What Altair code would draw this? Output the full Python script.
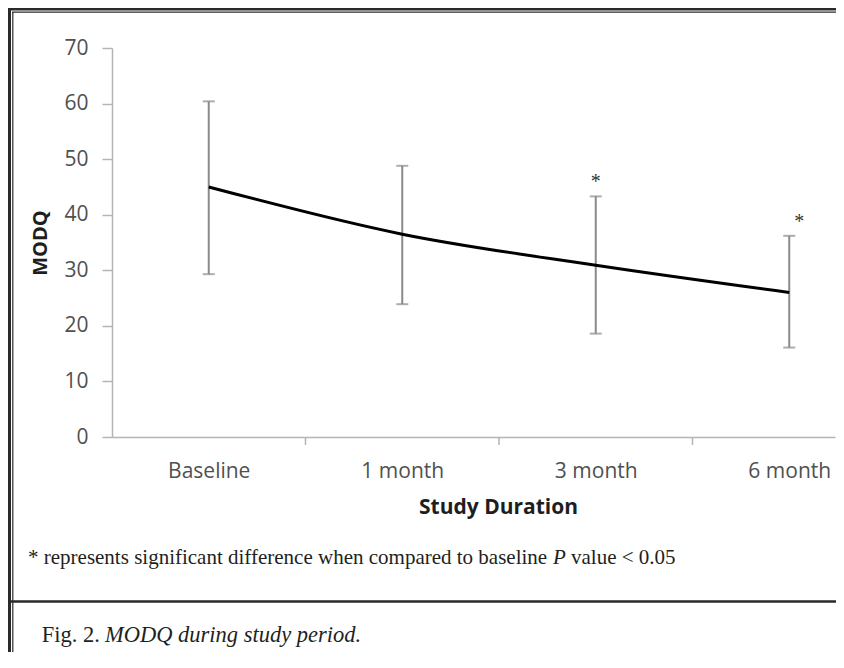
import altair as alt
import pandas as pd

# ---------------- data ----------------
categories = ["Baseline", "1 month", "3 month", "6 month"]
modq_mean = [45.0, 36.5, 30.9, 26.0]
modq_upper = [60.4, 48.8, 43.3, 36.2]
modq_lower = [29.3, 23.9, 18.6, 16.1]
significance = ["", "", "*", "*"]
y_ticks = [0, 10, 20, 30, 40, 50, 60, 70]

y_title = "MODQ"
x_title = "Study Duration"
footnote_main = "* represents significant difference when compared to baseline"
footnote_italic = "P"
footnote_end = "value < 0.05"
caption_regular = "Fig. 2."
caption_italic = "MODQ during study period."

# ---------------- layout ----------------
W, H = 723, 389
BAND = 193.5
AX = "#b4b4b4"
EB = "#8a8a8a"
SANS = "Open Sans"
SERIF = "Liberation Serif"
INK = "#231f20"
LBL = "#505050"

df = pd.DataFrame({
    "category": categories,
    "pos": list(range(len(categories))),
    "mean": modq_mean,
    "upper": modq_upper,
    "lower": modq_lower,
    "sig": significance,
})
bounds = pd.DataFrame({"b": [i + 0.5 for i in range(len(categories) - 1)]})
one = pd.DataFrame({"k": [0]})

label_expr = "[" + ",".join("'%s'" % c for c in categories) + "][datum.value]"

x_scale = alt.Scale(domain=[-0.5, -0.5 + W / BAND], nice=False, zero=False)
y_scale = alt.Scale(domain=[0, 70], nice=False, zero=True)

x_axis = alt.Axis(
    values=list(range(len(categories))), labelExpr=label_expr,
    ticks=False, tickSize=0, grid=False,
    domainColor=AX, domainWidth=1.5,
    labelFont=SANS, labelFontSize=21, labelColor=LBL, labelPadding=23,
    labelFlush=False, labelOverlap=False,
    titleFont=SANS, titleFontSize=21, titleFontWeight="bold", titleColor="#1e1e1e",
    titleX=386, titleY=70, titleBaseline="middle", titleAlign="center",
)
y_axis = alt.Axis(
    values=y_ticks, tickSize=10, tickColor=AX, tickWidth=1.5,
    domainColor=AX, domainWidth=1.5, grid=False,
    labelFont=SANS, labelFontSize=21, labelColor=LBL, labelPadding=14,
    titleFont=SANS, titleFontSize=20, titleFontWeight="bold", titleColor="#1e1e1e",
    titleX=-72, titleY=H / 2, titleAngle=270, titleBaseline="middle", titleAlign="center",
)


def X(field="pos:Q"):
    return alt.X(field, scale=x_scale, axis=x_axis, title=x_title)


def Y(field):
    return alt.Y(field, scale=y_scale, axis=y_axis, title=y_title)


base = alt.Chart(df)

line = base.mark_line(color="black", strokeWidth=3, interpolate="monotone").encode(
    x=X(), y=Y("mean:Q"))
err = base.mark_rule(color=EB, strokeWidth=2).encode(
    x=X(), y=Y("lower:Q"), y2="upper:Q")
cap_hi = base.mark_tick(orient="horizontal", size=12, thickness=2, color=EB).encode(
    x=X(), y=Y("upper:Q"))
cap_lo = base.mark_tick(orient="horizontal", size=12, thickness=2, color=EB).encode(
    x=X(), y=Y("lower:Q"))

star3 = base.transform_filter(alt.datum.category == categories[2]).mark_text(
    font=SERIF, fontSize=20, color="#333333", baseline="middle", dy=-14
).encode(x=X(), y=Y("upper:Q"), text="sig:N")
star6 = base.transform_filter(alt.datum.category == categories[3]).mark_text(
    font=SERIF, fontSize=20, color="#333333", baseline="middle", dy=-14, dx=10
).encode(x=X(), y=Y("upper:Q"), text="sig:N")

ticks_x = alt.Chart(bounds).mark_rule(color=AX, strokeWidth=1.5).encode(
    x=alt.X("b:Q", scale=x_scale, axis=x_axis, title=x_title),
    y=alt.value(H), y2=alt.value(H + 8))

# ---------------- frame, footnote, caption ----------------
OX, OY = 112, 48  # page position of the plot origin
CANVAS_W = 828
CANVAS_H = 644
right = 8 + CANVAS_W
bottom = 8 + CANVAS_H


def hline(y, x1, x2, w, c="#2a2a2a"):
    return alt.Chart(one).mark_rule(color=c, strokeWidth=w).encode(
        x=alt.value(x1 - OX), x2=alt.value(x2 - OX), y=alt.value(y - OY))


def vline(x, y1, y2, w, c="#2a2a2a"):
    return alt.Chart(one).mark_rule(color=c, strokeWidth=w).encode(
        x=alt.value(x - OX), y=alt.value(y1 - OY), y2=alt.value(y2 - OY))


frame = [
    hline(9.2, 8, right, 2.6),
    hline(12.2, 12, right, 1.2),
    vline(9.5, 8, bottom, 3),
    vline(12.8, 12, bottom, 1.2),
    hline(601.5, 8, right, 2.6),
]


def txt(s, x, y, size, style="normal"):
    return alt.Chart(one).mark_text(
        align="left", baseline="alphabetic", font=SERIF, fontSize=size,
        fontStyle=style, color=INK
    ).encode(x=alt.value(x - OX), y=alt.value(y - OY), text=alt.value(s))


texts = [
    txt(footnote_main, 28, 564, 21),
    txt(footnote_italic, 553, 564, 21, "italic"),
    txt(footnote_end, 571, 564, 21),
    txt(caption_regular, 41.7, 641.5, 22.5),
    txt(caption_italic, 105, 641.5, 22.5, "italic"),
]

chart = alt.layer(
    err, cap_hi, cap_lo, line, star3, star6, ticks_x, *frame, *texts
).properties(
    width=W, height=H,
    autosize=alt.AutoSizeParams(type="none"),
    padding={"left": 104, "top": 40, "right": CANVAS_W - 104 - W,
             "bottom": CANVAS_H - 40 - H},
    background="white",
).configure_view(stroke=None)

chart.save("out.html", embed_options={"renderer": "svg", "actions": False})
